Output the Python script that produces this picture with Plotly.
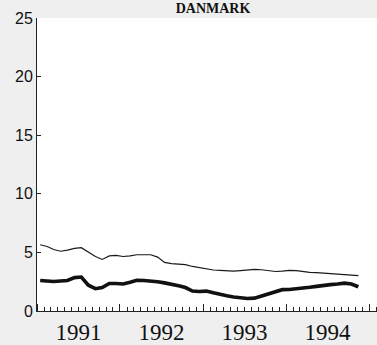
import pandas as pd
import plotly.graph_objects as go

# Monthly observations, January 1991 to November 1994
months = pd.date_range("1991-01-01", periods=47, freq="MS") + pd.Timedelta(days=14)

upper_series = [
    5.65, 5.50, 5.25, 5.10, 5.20, 5.35, 5.40, 5.00, 4.65, 4.40, 4.70, 4.75,
    4.65, 4.70, 4.80, 4.80, 4.80, 4.60, 4.15, 4.05, 4.00, 3.95, 3.80, 3.70,
    3.60, 3.50, 3.47, 3.43, 3.40, 3.45, 3.50, 3.55, 3.52, 3.45, 3.37, 3.40,
    3.47, 3.45, 3.37, 3.30, 3.27, 3.22, 3.20, 3.15, 3.12, 3.07, 3.02,
]
lower_series = [
    2.60, 2.52, 2.52, 2.56, 2.60, 2.85, 2.90, 2.20, 1.90, 2.00, 2.35, 2.35,
    2.30, 2.45, 2.62, 2.60, 2.56, 2.50, 2.40, 2.30, 2.15, 2.00, 1.70, 1.67,
    1.70, 1.55, 1.40, 1.30, 1.20, 1.12, 1.07, 1.10, 1.30, 1.50, 1.70, 1.82,
    1.83, 1.87, 1.95, 2.02, 2.10, 2.20, 2.25, 2.30, 2.38, 2.30, 2.07,
]
y_ticks = [0, 5, 10, 15, 20, 25]
title_text = "DANMARK"

fig = go.Figure()
fig.add_trace(go.Scatter(x=months, y=upper_series, mode="lines",
                         line=dict(color="#1a1a1a", width=1.2), showlegend=False))
fig.add_trace(go.Scatter(x=months, y=lower_series, mode="lines",
                         line=dict(color="#111111", width=3.6), showlegend=False))

fig.update_layout(
    width=377, height=345,
    margin=dict(l=37, r=0, t=18, b=27, pad=0),
    paper_bgcolor="#efefef",
    plot_bgcolor="#ffffff",
    title=dict(text="<b>" + title_text + "</b>", x=213 / 377, xanchor="center",
               y=1 - 8 / 345, yanchor="middle",
               font=dict(family="Liberation Serif", size=14, color="#111111")),
    xaxis=dict(
        type="date",
        range=["1991-01-01", "1995-02-05"],
        tick0="1991-01-01", dtick="M12", tickformat="%Y",
        ticklabelmode="period",
        ticks="inside", ticklen=7, tickcolor="#222222", tickwidth=1,
        minor=dict(dtick="M1", tick0="1991-01-01", ticks="inside",
                   ticklen=4, tickcolor="#222222", tickwidth=1, showgrid=False),
        showline=True, linecolor="#222222", linewidth=1,
        showgrid=False, zeroline=False,
        tickfont=dict(family="Liberation Serif", size=23, color="#111111"),
    ),
    yaxis=dict(
        range=[0, 25], tickvals=y_ticks,
        ticks="inside", ticklen=4, tickcolor="#222222", tickwidth=1,
        showline=True, linecolor="#222222", linewidth=1,
        showgrid=False, zeroline=False,
        tickfont=dict(family="Liberation Sans", size=16, color="#111111"),
    ),
)

fig.write_html("out.html")
